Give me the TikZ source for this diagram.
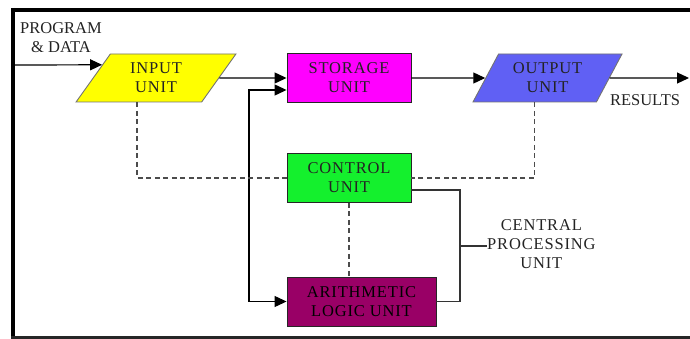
\documentclass[tikz,border=0pt]{standalone}
\usepackage{fontspec}
\setmainfont{Liberation Serif}
\newfontfamily\unitfont[LetterSpace=5]{Liberation Serif}
\usetikzlibrary{shapes.geometric,arrows.meta,calc}

\definecolor{inyellow}{RGB}{255,255,0}
\definecolor{stmagenta}{RGB}{255,0,255}
\definecolor{outblue}{RGB}{96,96,244}
\definecolor{ctlgreen}{RGB}{20,240,45}
\definecolor{alupurple}{RGB}{153,0,102}
\definecolor{inktext}{RGB}{35,35,35}

\tikzset{
  unitbox/.style={draw=black!85, line width=0.9pt, minimum width=124pt,
    minimum height=49pt, inner sep=0pt, align=center,
    font=\unitfont\fontsize{16.5}{19}\selectfont, text=inktext},
  iobox/.style={trapezium, trapezium stretches=true, draw=black!55,
    line width=0.9pt, inner sep=0pt, align=center,
    font=\unitfont\fontsize{16.5}{19}\selectfont, text=inktext},
  caption/.style={inner sep=0pt, align=center, text=inktext},
  flow/.style={line width=1.2pt, -{Triangle[length=12pt,width=11pt]}},
  bus/.style={line width=1.2pt, {Triangle[length=12pt,width=11pt]}-{Triangle[length=12pt,width=11pt]}},
  ctlline/.style={line width=1.3pt, black!70, dash pattern=on 5pt off 3.5pt},
  bracket/.style={line width=1.2pt, black!80},
  frame/.style={black}
}

\begin{document}
\begin{tikzpicture}[x=1pt,y=-1pt]
  \useasboundingbox (0,0) rectangle (690,339);

  % outer frame: left, top and bottom rules
  \draw[frame, line width=4pt] (13,8) -- (13,339);
  \draw[frame, line width=4pt] (11,10) -- (690,10);
  \draw[frame, line width=3pt, black!85] (11,337.5) -- (690,337.5);

  % units
  \node[iobox, fill=inyellow, minimum width=160pt, minimum height=48pt,
        trapezium left angle=57, trapezium right angle=123]
        (inp) at (156,78) {INPUT\\UNIT};
  \node[unitbox, fill=stmagenta] (stor) at (349,78) {STORAGE\\UNIT};
  \node[iobox, fill=outblue, minimum width=149pt, minimum height=48pt,
        trapezium left angle=59, trapezium right angle=121]
        (out) at (547.5,78) {OUTPUT\\UNIT};
  \node[unitbox, fill=ctlgreen] (ctrl) at (349,178) {CONTROL\\UNIT};
  \node[unitbox, fill=alupurple, minimum width=149pt, text=black]
        (alu) at (361.5,301.5) {ARITHMETIC\\LOGIC UNIT};

  % captions
  \node[caption, font=\fontsize{16.5}{19}\selectfont] (pd) at (61,38) {PROGRAM\\\& DATA};
  \node[caption, font=\fontsize{16.5}{19}\selectfont] (res) at (645,100) {RESULTS};
  \node[caption, font=\unitfont\fontsize{16.5}{19}\selectfont, anchor=west]
        (cpu) at (487,244) {CENTRAL\\PROCESSING\\UNIT};

  % free ends of the outer connectors
  \coordinate (src) at (15,65);
  \coordinate (sink) at (689,78);
  \coordinate (busx) at (249,301.5);
  \coordinate (brk) at (460,246);

  % data flow
  \draw[flow] (src) -- ($(inp.bottom left corner)!0.77!(inp.top left corner)$);
  \draw[flow] (inp.east) -- (stor.west);
  \draw[flow] (stor.east) -- (out.west);
  \draw[flow] (out.east) -- (sink);
  \draw[bus] ([yshift=-12pt]stor.west) -| (busx) -- (alu.west);

  % control signals
  \draw[ctlline] ([xshift=-19pt]inp.south) |- (ctrl.west);
  \draw[ctlline] ([xshift=-13pt]out.south) |- (ctrl.east);
  \draw[ctlline] (ctrl.south) -- (ctrl.south |- alu.north);

  % CPU bracket
  \draw[bracket] ([yshift=-12pt]ctrl.east) -| (brk) |- (alu.east);
  \draw[bracket] (brk) -- (brk -| cpu.west);
\end{tikzpicture}
\end{document}
